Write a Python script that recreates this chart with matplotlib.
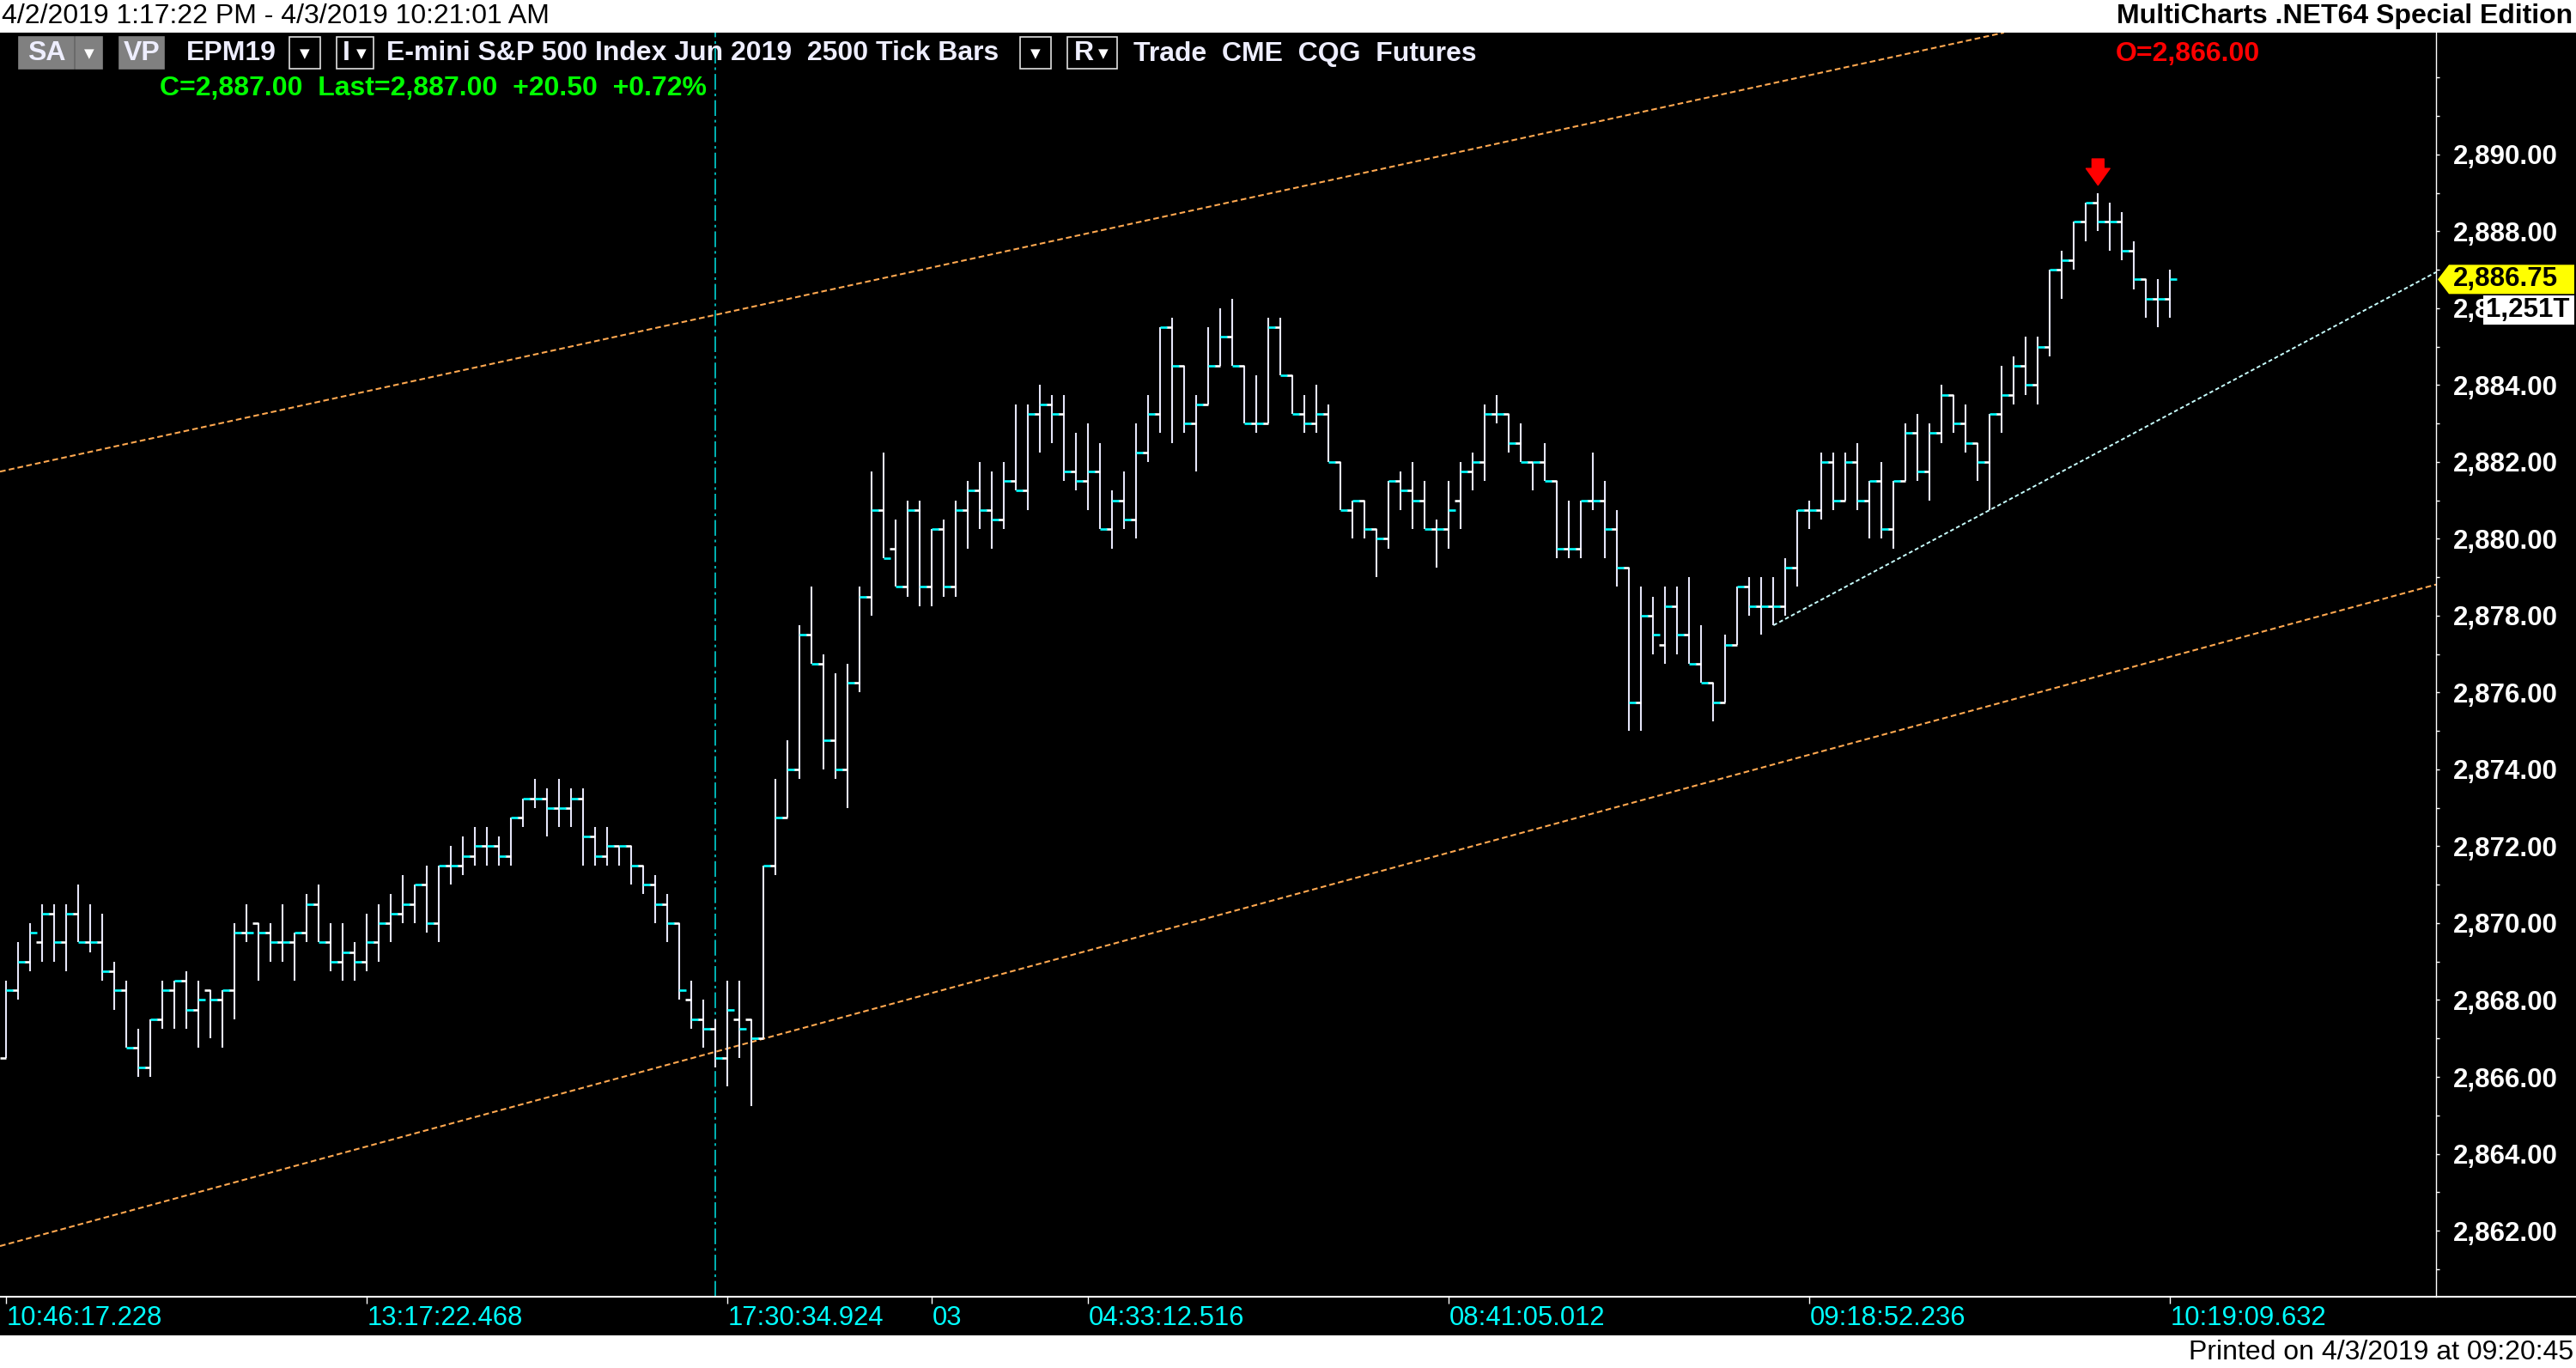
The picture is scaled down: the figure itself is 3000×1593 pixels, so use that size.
import numpy as np
import matplotlib
matplotlib.use("Agg")
import matplotlib.pyplot as plt
from matplotlib.patches import Rectangle, Polygon
from matplotlib.lines import Line2D
from matplotlib import transforms

plt.rcParams['font.family'] = ['Liberation Sans', 'DejaVu Sans']

# EPM19 2500 tick bars (one row of ten bars per line)
bar_open = [
    2866.5, 2868.25, 2869.0, 2869.5, 2870.25, 2869.5, 2870.25, 2869.5, 2869.5, 2868.75,
    2868.25, 2866.75, 2866.25, 2867.5, 2868.25, 2868.5, 2867.75, 2868.25, 2868.0, 2868.25,
    2869.75, 2870.0, 2869.75, 2869.5, 2869.5, 2869.75, 2870.5, 2869.5, 2869.0, 2869.25,
    2869.0, 2869.5, 2870.0, 2870.25, 2870.5, 2871.0, 2870.0, 2871.5, 2871.5, 2871.75,
    2872.0, 2872.0, 2871.75, 2872.75, 2873.25, 2873.25, 2873.0, 2873.0, 2873.25, 2872.25,
    2871.75, 2872.0, 2872.0, 2871.5, 2871.0, 2870.5, 2870.0, 2868.0, 2867.5, 2867.25,
    2866.5, 2867.5, 2867.5, 2867.0, 2871.5, 2872.75, 2874.0, 2877.5, 2876.75, 2874.75,
    2874.0, 2876.25, 2878.5, 2880.75, 2879.75, 2878.75, 2880.75, 2878.75, 2880.25, 2878.75,
    2880.75, 2881.25, 2880.75, 2880.5, 2881.5, 2881.25, 2883.25, 2883.5, 2883.25, 2881.75,
    2881.5, 2881.75, 2880.25, 2881.0, 2880.5, 2882.25, 2883.25, 2885.5, 2884.5, 2883.0,
    2883.5, 2884.5, 2885.25, 2884.5, 2883.0, 2883.0, 2885.5, 2884.25, 2883.25, 2883.0,
    2883.25, 2882.0, 2880.75, 2881.0, 2880.25, 2880.0, 2881.5, 2881.25, 2881.0, 2880.25,
    2880.25, 2881.0, 2881.75, 2882.0, 2883.25, 2883.25, 2882.5, 2882.0, 2882.0, 2881.5,
    2879.75, 2879.75, 2881.0, 2881.0, 2880.25, 2879.25, 2875.75, 2878.0, 2877.25, 2878.25,
    2877.5, 2876.75, 2876.25, 2875.75, 2877.25, 2878.75, 2878.25, 2878.25, 2878.25, 2879.25,
    2880.75, 2880.75, 2882.0, 2881.0, 2882.0, 2881.0, 2881.5, 2880.25, 2881.5, 2882.75,
    2881.75, 2882.75, 2883.75, 2883.0, 2882.5, 2882.0, 2883.25, 2883.75, 2884.5, 2884.0,
    2885.0, 2887.0, 2887.25, 2888.25, 2888.75, 2888.25, 2888.25, 2887.5, 2886.75, 2886.25,
    2886.25,
]
bar_high = [
    2868.5, 2869.5, 2870.0, 2870.5, 2870.5, 2870.5, 2871.0, 2870.5, 2870.25, 2869.0,
    2868.5, 2867.25, 2867.5, 2868.5, 2868.5, 2868.75, 2868.5, 2868.25, 2868.25, 2870.0,
    2870.5, 2870.0, 2870.0, 2870.5, 2869.75, 2870.75, 2871.0, 2870.0, 2870.0, 2869.5,
    2870.25, 2870.5, 2870.75, 2871.25, 2871.0, 2871.5, 2871.5, 2872.0, 2872.25, 2872.5,
    2872.5, 2872.25, 2872.75, 2873.25, 2873.75, 2873.5, 2873.75, 2873.5, 2873.5, 2872.5,
    2872.5, 2872.0, 2872.0, 2871.5, 2871.25, 2870.75, 2870.0, 2868.5, 2868.0, 2867.5,
    2868.5, 2868.5, 2867.5, 2871.5, 2873.75, 2874.75, 2877.75, 2878.75, 2877.0, 2876.5,
    2876.75, 2878.75, 2881.75, 2882.25, 2880.5, 2881.0, 2881.0, 2880.25, 2880.5, 2881.0,
    2881.5, 2882.0, 2881.75, 2882.0, 2883.5, 2883.5, 2884.0, 2883.75, 2883.75, 2882.75,
    2883.0, 2882.5, 2881.25, 2881.75, 2883.0, 2883.75, 2885.5, 2885.75, 2884.5, 2883.75,
    2885.5, 2886.0, 2886.25, 2884.5, 2884.25, 2885.75, 2885.75, 2884.25, 2883.75, 2884.0,
    2883.5, 2882.0, 2881.0, 2881.0, 2880.25, 2881.5, 2881.75, 2882.0, 2881.5, 2880.5,
    2881.5, 2882.0, 2882.25, 2883.5, 2883.75, 2883.25, 2883.0, 2882.0, 2882.5, 2881.5,
    2881.0, 2881.0, 2882.25, 2881.5, 2880.75, 2879.25, 2878.75, 2878.5, 2878.75, 2878.75,
    2879.0, 2877.75, 2876.25, 2877.5, 2878.75, 2879.0, 2879.0, 2879.0, 2879.5, 2880.75,
    2881.0, 2882.25, 2882.25, 2882.25, 2882.5, 2881.5, 2882.0, 2881.5, 2883.0, 2883.25,
    2883.0, 2884.0, 2883.75, 2883.5, 2882.5, 2883.25, 2884.5, 2884.75, 2885.25, 2885.25,
    2887.0, 2887.5, 2888.25, 2888.75, 2889.0, 2888.75, 2888.5, 2887.75, 2886.75, 2886.75,
    2887.0,
]
bar_low = [
    2866.5, 2868.0, 2868.75, 2869.0, 2869.0, 2868.75, 2869.5, 2869.25, 2868.5, 2867.75,
    2866.75, 2866.0, 2866.0, 2867.25, 2867.25, 2867.25, 2866.75, 2867.0, 2866.75, 2867.5,
    2869.5, 2868.5, 2869.0, 2869.0, 2868.5, 2869.5, 2869.5, 2868.75, 2868.5, 2868.5,
    2868.75, 2869.0, 2869.5, 2870.0, 2870.0, 2869.75, 2869.5, 2871.0, 2871.25, 2871.5,
    2871.5, 2871.5, 2871.5, 2872.5, 2873.0, 2872.25, 2872.5, 2872.5, 2871.5, 2871.5,
    2871.5, 2871.5, 2871.0, 2870.75, 2870.0, 2869.5, 2868.0, 2867.25, 2866.75, 2866.25,
    2865.75, 2866.5, 2865.25, 2867.0, 2871.25, 2872.75, 2873.75, 2876.75, 2874.0, 2873.75,
    2873.0, 2876.0, 2878.0, 2879.5, 2878.75, 2878.5, 2878.25, 2878.25, 2878.5, 2878.5,
    2879.75, 2880.25, 2879.75, 2880.25, 2881.25, 2880.75, 2882.25, 2882.5, 2881.5, 2881.25,
    2880.75, 2880.25, 2879.75, 2880.25, 2880.0, 2882.0, 2882.75, 2882.5, 2882.75, 2881.75,
    2883.5, 2884.5, 2884.5, 2883.0, 2882.75, 2883.0, 2884.25, 2883.25, 2882.75, 2882.75,
    2882.0, 2880.75, 2880.0, 2880.0, 2879.0, 2879.75, 2880.75, 2880.25, 2880.25, 2879.25,
    2879.75, 2880.25, 2881.25, 2881.5, 2883.0, 2882.25, 2882.0, 2881.25, 2881.5, 2879.5,
    2879.5, 2879.5, 2880.75, 2879.5, 2878.75, 2875.0, 2875.0, 2877.0, 2876.75, 2877.0,
    2876.75, 2876.25, 2875.25, 2875.75, 2877.25, 2878.0, 2877.5, 2877.75, 2878.0, 2878.75,
    2880.25, 2880.5, 2880.75, 2881.0, 2880.75, 2880.0, 2880.0, 2879.75, 2881.5, 2881.5,
    2881.0, 2882.5, 2882.75, 2882.25, 2881.5, 2880.75, 2882.75, 2883.5, 2883.75, 2883.5,
    2884.75, 2886.25, 2887.0, 2887.75, 2888.0, 2887.5, 2887.25, 2886.5, 2885.75, 2885.5,
    2885.75,
]
bar_close = [
    2868.25, 2869.0, 2869.75, 2870.25, 2869.5, 2870.25, 2869.5, 2869.5, 2868.75, 2868.25,
    2866.75, 2866.25, 2867.5, 2868.25, 2868.5, 2867.75, 2868.0, 2868.0, 2868.25, 2869.75,
    2869.75, 2869.75, 2869.5, 2869.5, 2869.75, 2870.5, 2869.5, 2869.0, 2869.25, 2869.0,
    2869.5, 2870.0, 2870.25, 2870.5, 2871.0, 2870.0, 2871.5, 2871.5, 2871.75, 2872.0,
    2872.0, 2871.75, 2872.75, 2873.25, 2873.25, 2873.0, 2873.0, 2873.25, 2872.25, 2871.75,
    2872.0, 2872.0, 2871.5, 2871.0, 2870.5, 2870.0, 2868.25, 2867.5, 2867.25, 2866.5,
    2867.75, 2867.25, 2867.0, 2871.5, 2872.75, 2874.0, 2877.5, 2876.75, 2874.75, 2874.0,
    2876.25, 2878.5, 2880.75, 2879.5, 2878.75, 2880.75, 2878.75, 2880.25, 2878.75, 2880.75,
    2881.25, 2880.75, 2880.5, 2881.5, 2881.25, 2883.25, 2883.5, 2883.25, 2881.75, 2881.5,
    2881.75, 2880.25, 2881.0, 2880.5, 2882.25, 2883.25, 2885.5, 2884.5, 2883.0, 2883.5,
    2884.5, 2885.25, 2884.5, 2883.0, 2883.0, 2885.5, 2884.25, 2883.25, 2883.0, 2883.25,
    2882.0, 2880.75, 2881.0, 2880.25, 2880.0, 2881.5, 2881.25, 2881.0, 2880.25, 2880.25,
    2880.75, 2881.75, 2882.0, 2883.25, 2883.25, 2882.5, 2882.0, 2882.0, 2881.5, 2879.75,
    2879.75, 2881.0, 2881.0, 2880.25, 2879.25, 2875.75, 2878.0, 2877.5, 2878.25, 2877.5,
    2876.75, 2876.25, 2875.75, 2877.25, 2878.75, 2878.25, 2878.25, 2878.25, 2879.25, 2880.75,
    2880.75, 2882.0, 2881.0, 2882.0, 2881.0, 2881.5, 2880.25, 2881.5, 2882.75, 2881.75,
    2882.75, 2883.75, 2883.0, 2882.5, 2882.0, 2883.25, 2883.75, 2884.5, 2884.0, 2885.0,
    2887.0, 2887.25, 2888.25, 2888.75, 2888.25, 2888.25, 2887.5, 2886.75, 2886.25, 2886.25,
    2886.75,
]

# time axis labels (bar index -> text)
time_ticks = [0, 30, 60, 77, 90, 120, 150, 180]
time_labels = ["10:46:17.228", "13:17:22.468", "17:30:34.924", "03",
               "04:33:12.516", "08:41:05.012", "09:18:52.236", "10:19:09.632"]

# hand drawn studies: two anchor points (bar index, price) each
channel_upper = [(-0.5, 2881.75), (161.5, 2892.85)]
channel_lower = [(-0.5, 2861.6), (202.0, 2878.8)]
trend_line = [(147, 2877.75), (165, 2880.75)]
cursor_bar = 59
signal_bar = 174
tick_volume = "1,251T"

W, H = 3000, 1593


def px(x):
    return x / W


def py(y):
    return 1 - y / H


fig = plt.figure(figsize=(W / 100, H / 100), dpi=100, facecolor='black')
ax = fig.add_axes([0, 83 / H, 2837 / W, 1472 / H])
ax.set_facecolor('black')

xs = np.arange(len(bar_close))
ax.vlines(xs, bar_low, bar_high, colors='#E6E6FA', linewidth=1.5, capstyle='butt', zorder=3)
ax.hlines(bar_open, xs - 0.52, xs, colors='white', linewidth=1.9, capstyle='butt', zorder=3)
ax.hlines(bar_close, xs, xs + 0.52, colors='#00FFFF', linewidth=1.9, capstyle='butt', zorder=4)

ax.set_xlim(-0.52, 202.12)
ax.set_ylim(2860.28, 2893.17)

# studies
ax.axline(channel_upper[0], channel_upper[1], color='#FFA850', lw=1.5, linestyle=(0, (3.2, 1.8)), zorder=2)
ax.axline(channel_lower[0], channel_lower[1], color='#FFA850', lw=1.5, linestyle=(0, (3.2, 1.8)), zorder=2)
ax.axvline(cursor_bar, color='#00E5E5', lw=1.1, linestyle=(0, (12, 3, 2, 3)), zorder=2)

(tx0, ty0), (tx1, ty1) = trend_line
slope = (ty1 - ty0) / (tx1 - tx0)
x_end = ax.get_xlim()[1]
ax.plot([tx0, x_end], [ty0, ty0 + slope * (x_end - tx0)], color='#C8FFFF', lw=1.4,
        linestyle=(0, (2.4, 1.6)), zorder=2)

# red signal arrow above the high
tip = transforms.offset_copy(ax.transData, fig=fig, y=6.5, units='points')
ax.annotate('', xy=(signal_bar, bar_high[signal_bar]), xycoords=tip,
            xytext=(0, 22), textcoords='offset points',
            arrowprops=dict(arrowstyle='simple,head_length=0.7,head_width=1.0,tail_width=0.5',
                            color='#FF0000', shrinkA=0, shrinkB=0, mutation_scale=20))

# axes styling
for side in ['left', 'top']:
    ax.spines[side].set_visible(False)
ax.spines['right'].set_color('white')
ax.spines['right'].set_linewidth(1.0)
ax.spines['bottom'].set_color('white')
ax.spines['bottom'].set_linewidth(1.5)

ax.yaxis.tick_right()
yt = np.arange(2862, 2891, 2)
ax.set_yticks(yt)
ax.set_yticklabels([f"{v:,.2f}" for v in yt])
ax.set_yticks(np.arange(2861, 2893, 1), minor=True)
ax.tick_params(axis='y', which='both', colors='white', length=3, width=1, pad=11, labelsize=22.5)
for lab in ax.get_yticklabels():
    lab.set_fontweight('bold')

ax.set_xticks(time_ticks, time_labels)
ax.tick_params(axis='x', colors='white', labelcolor='#00FFFF', length=6, width=1, pad=1, labelsize=22.3)
for lab in ax.get_xticklabels():
    lab.set_horizontalalignment('left')

fig.add_artist(Line2D([px(2837), 1], [py(1510), py(1510)], transform=fig.transFigure,
                      color='white', lw=1.5))

# header and footer bands
fig.add_artist(Rectangle((0, py(38)), 1, 38 / H, transform=fig.transFigure, facecolor='white', edgecolor='none'))
fig.add_artist(Rectangle((0, 0), 1, 38 / H, transform=fig.transFigure, facecolor='white', edgecolor='none'))
fig.text(px(2), py(19), "4/2/2019 1:17:22 PM - 4/3/2019 10:21:01 AM", color='black', fontsize=23, va='center')
fig.text(px(2996), py(19), "MultiCharts .NET64 Special Edition", color='black', fontsize=23,
         fontweight='bold', va='center', ha='right')
fig.text(px(2997), py(1575), "Printed on 4/3/2019 at 09:20:45", color='black', fontsize=23,
         va='center', ha='right')


# toolbar row
def tool_box(x0, x1, face, edge):
    fig.add_artist(Rectangle((px(x0), py(80)), (x1 - x0) / W, 37 / H, transform=fig.transFigure,
                             facecolor=face, edgecolor=edge, linewidth=1.2))


tool_box(22, 86, '#808080', '#808080')
tool_box(88, 119, '#808080', '#808080')
tool_box(139, 191, '#808080', '#808080')
for x0, x1 in [(337, 373), (392, 435), (1188, 1224), (1243, 1301)]:
    tool_box(x0, x1, 'black', '#E0E0E0')

ty = 62.5
tool = dict(color='#EEEEFF', fontsize=23, fontweight='bold', va='center')
tri = dict(color='white', fontsize=11, va='center', ha='center', family='DejaVu Sans')
fig.text(px(54), py(ty), "SA", ha='center', **tool)
fig.text(px(103.5), py(ty), "▼", **tri)
fig.text(px(165), py(ty), "VP", ha='center', **tool)
fig.text(px(217), py(ty), "EPM19", ha='left', **tool)
fig.text(px(355), py(ty), "▼", **tri)
fig.text(px(399), py(ty), "I", ha='left', **tool)
fig.text(px(421), py(ty), "▼", **tri)
fig.text(px(450), py(ty), "E-mini S&P 500 Index Jun 2019  2500 Tick Bars", ha='left', **tool)
fig.text(px(1206), py(ty), "▼", **tri)
fig.text(px(1251), py(ty), "R", ha='left', **tool)
fig.text(px(1285), py(ty), "▼", **tri)
fig.text(px(1320), py(ty), "Trade  CME  CQG  Futures", ha='left', **tool)

fig.text(px(186), py(103), "C=2,887.00  Last=2,887.00  +20.50  +0.72%", color='#00FF00',
         fontsize=23, fontweight='bold', va='center')
fig.text(px(2464), py(63), "O=2,866.00", color='#FF0000', fontsize=23, fontweight='bold', va='center')

# last price tag on the price scale
last_price = bar_close[-1]
tag_y = H - ax.transData.transform((0, last_price))[1]
tag = [(px(2839), py(tag_y)), (px(2852), py(tag_y - 17)), (px(2998), py(tag_y - 17)),
       (px(2998), py(tag_y + 17)), (px(2852), py(tag_y + 17))]
fig.add_artist(Polygon(tag, closed=True, transform=fig.transFigure, facecolor='#FFFF00', edgecolor='none'))
fig.text(px(2857), py(tag_y), f"{last_price:,.2f}", color='black', fontsize=22.5,
         fontweight='bold', va='center')
fig.add_artist(Rectangle((px(2892), py(tag_y + 53)), 106 / W, 34 / H, transform=fig.transFigure,
                         facecolor='white', edgecolor='none'))
fig.text(px(2895), py(tag_y + 36), tick_volume, color='black', fontsize=22.5, fontweight='bold', va='center')

fig.savefig('out.png', dpi=100, facecolor='black')
